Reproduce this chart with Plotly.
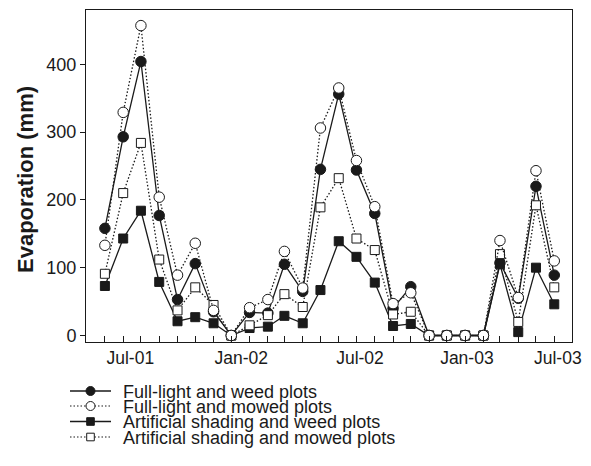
import plotly.graph_objects as go

# ---------------- data ----------------
months = [
    "2001-05-15", "2001-06-15", "2001-07-15", "2001-08-15", "2001-09-15", "2001-10-15",
    "2001-11-15", "2001-12-15", "2002-01-15", "2002-02-15", "2002-03-15", "2002-04-15",
    "2002-05-15", "2002-06-15", "2002-07-15", "2002-08-15", "2002-09-15", "2002-10-15",
    "2002-11-15", "2002-12-15", "2003-01-15", "2003-02-15", "2003-03-15", "2003-04-15",
    "2003-05-15", "2003-06-15",
]
full_light_weed = [158, 293, 404, 177, 53, 106, 35, 0, 34, 33, 105, 65, 245, 356, 244,
                   180, 40, 72, 0, 0, 0, 0, 107, 55, 220, 89]
full_light_mowed = [133, 329, 457, 204, 89, 136, 37, 0, 41, 53, 124, 70, 306, 365, 258,
                    190, 47, 63, 0, 0, 0, 0, 140, 56, 243, 110]
shade_weed = [73, 143, 184, 79, 21, 27, 18, 0, 11, 13, 29, 18, 67, 139, 116,
              78, 14, 17, 0, 0, 0, 0, 105, 5, 100, 46]
shade_mowed = [91, 210, 284, 112, 37, 71, 45, 0, 15, 30, 61, 42, 189, 232, 143,
               126, 31, 35, 0, 0, 0, 0, 120, 20, 192, 71]

series_names = [
    "Full-light and weed plots",
    "Full-light and mowed plots",
    "Artificial shading and weed plots",
    "Artificial shading and mowed plots",
]
tick_labels = ["Jul-01", "Jan-02", "Jul-02", "Jan-03", "Jul-03"]
tick_dates = ["2001-06-27", "2002-01-01", "2002-07-21", "2003-01-18", "2003-06-21"]
y_ticks = [0, 100, 200, 300, 400]

# ---------------- layout geometry ----------------
# the page body has an 8px margin, so the figure is drawn 8px in from the window corner
OFF = 8
W, H = 575, 450
# plot area in window pixels
PL, PR, PT, PB = 86, 572, 10, 342
ML, MT = PL - OFF, PT - OFF
MR, MB = W - (PR - OFF), H - (PB - OFF)
FONT = "Liberation Sans, Arial, Helvetica, sans-serif"
INK = "#1a1a1a"
DOT = "1.5px,2px"


def px_x(px):
    return (px - PL) / (PR - PL)


def px_y(py):
    return (PB - py) / (PB - PT)


styles = {
    series_names[0]: dict(dash="solid", width=1.3, symbol="circle", fill=INK, size=10.5),
    series_names[1]: dict(dash=DOT, width=1.3, symbol="circle", fill="white", size=10.5),
    series_names[2]: dict(dash="solid", width=1.3, symbol="square", fill=INK, size=9),
    series_names[3]: dict(dash=DOT, width=1.3, symbol="square", fill="white", size=9),
}
values = {
    series_names[0]: full_light_weed,
    series_names[1]: full_light_mowed,
    series_names[2]: shade_weed,
    series_names[3]: shade_mowed,
}

fig = go.Figure()
for name in [series_names[2], series_names[0], series_names[3], series_names[1]]:
    st = styles[name]
    fig.add_trace(go.Scatter(
        x=months, y=values[name], name=name, mode="lines+markers",
        line=dict(color=INK, width=st["width"], dash=st["dash"]),
        marker=dict(symbol=st["symbol"], size=st["size"], color=st["fill"],
                    line=dict(color=INK, width=1)),
        showlegend=False,
    ))

# ---------------- custom legend (shapes + text) ----------------
shapes = []
annotations = []
rows = [391, 406, 421.5, 437]
for name, row in zip(series_names, rows):
    st = styles[name]
    shapes.append(dict(
        type="line", xref="paper", yref="paper",
        x0=px_x(70), x1=px_x(111), y0=px_y(row), y1=px_y(row),
        line=dict(color=INK, width=st["width"] if st["dash"] == "solid" else 1.1,
                  dash=st["dash"]),
    ))
    half = 4.5 if st["symbol"] == "circle" else 3.8
    shapes.append(dict(
        type="circle" if st["symbol"] == "circle" else "rect",
        xref="paper", yref="paper",
        xsizemode="pixel", ysizemode="pixel",
        xanchor=px_x(90.5), yanchor=px_y(row),
        x0=-half, x1=half, y0=-half, y1=half,
        fillcolor=st["fill"], line=dict(color=INK, width=1),
    ))
    annotations.append(dict(
        text=name, xref="paper", yref="paper", x=px_x(121), y=px_y(row + 0.5),
        xanchor="left", yanchor="middle", showarrow=False,
        font=dict(family=FONT, size=18, color=INK),
    ))

annotations.append(dict(
    text="<b>Evaporation (mm)</b>", xref="paper", yref="paper",
    x=px_x(26), y=px_y(180), textangle=-90, xanchor="center", yanchor="middle",
    showarrow=False, font=dict(family=FONT, size=22, color=INK),
))

fig.update_layout(
    width=W, height=H,
    margin=dict(l=ML, r=MR, t=MT, b=MB, pad=0),
    paper_bgcolor="white", plot_bgcolor="white",
    font=dict(family=FONT, size=18, color=INK),
    shapes=shapes, annotations=annotations,
    showlegend=False,
    xaxis=dict(
        type="date", range=["2001-04-13", "2003-07-15"],
        tickmode="array", tickvals=tick_dates, ticktext=tick_labels,
        ticks="", showgrid=False, zeroline=False,
        showline=True, linecolor=INK, linewidth=1, mirror=True,
        tickfont=dict(family=FONT, size=17.5, color=INK),
        minor=dict(tickmode="array", tickvals=months, ticks="inside",
                   ticklen=6, tickwidth=1, tickcolor=INK, showgrid=False),
    ),
    yaxis=dict(
        range=[-9.6, 480], tickmode="array", tickvals=y_ticks,
        ticks="outside", ticklen=5, tickwidth=1, tickcolor=INK,
        showgrid=False, zeroline=False,
        showline=True, linecolor=INK, linewidth=1, mirror=True,
        tickfont=dict(family=FONT, size=18, color=INK),
    ),
)

fig.write_html("out.html")
